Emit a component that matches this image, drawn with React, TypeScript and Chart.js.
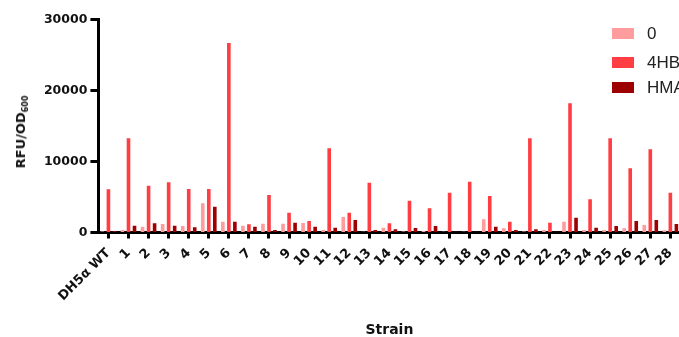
import React, { useEffect, useRef } from "react";
import { Chart, registerables } from "chart.js";

Chart.register(...registerables);

const categories = [
  "DH5α WT", "1", "2", "3", "4", "5", "6", "7", "8", "9", "10", "11", "12", "13", "14",
  "15", "16", "17", "18", "19", "20", "21", "22", "23", "24", "25", "26", "27", "28",
];

const seriesLabels = ["0", "4HBA", "HMA"];
const seriesColors = ["#FF9C9E", "#FF3D42", "#9C0000"];

const values0 = [
  150, 350, 820, 1200, 910, 4110, 1520, 960, 1240, 1240, 1340, 350, 2180, 100, 680,
  150, 200, 100, 100, 1860, 590, 150, 350, 1520, 350, 350, 590, 1060, 300,
];
const values4HB = [
  6080, 13260, 6590, 7070, 6120, 6120, 26700, 1150, 5280, 2790, 1620, 11850, 2790, 7010, 1290,
  4480, 3400, 5600, 7150, 5140, 1520, 13260, 1380, 18200, 4670, 13260, 9040, 11710, 5600,
];
const valuesHMA = [
  200, 960, 1290, 960, 730, 3640, 1520, 820, 350, 1380, 820, 680, 1760, 350, 450,
  630, 910, 100, 100, 820, 350, 450, 100, 2090, 680, 910, 1620, 1760, 1200,
];

const yTicks = [0, 10000, 20000, 30000];
const yTitle = "RFU/OD";
const yTitleSub = "600";
const xTitle = "Strain";

const CANVAS_W = 700;
const CANVAS_H = 337;

export default function App() {
  const ref = useRef<HTMLCanvasElement | null>(null);

  useEffect(() => {
    if (!ref.current) return;
    const allValues = [values0, values4HB, valuesHMA];
    const chart = new Chart(ref.current, {
      type: "bar",
      data: {
        labels: categories,
        datasets: allValues.map((vals, i) => ({
          label: seriesLabels[i],
          data: vals,
          backgroundColor: seriesColors[i],
          borderWidth: 0,
          categoryPercentage: 0.9,
          barPercentage: 0.6,
        })),
      },
      options: {
        responsive: false,
        animation: false,
        layout: { padding: { left: 0, top: 19.5, right: 19.6, bottom: 0 } },
        plugins: {
          legend: { display: false },
          tooltip: { enabled: false },
        },
        scales: {
          x: {
            type: "category",
            offset: true,
            grid: {
              display: true,
              drawOnChartArea: false,
              offset: false,
              tickLength: 6,
              tickWidth: 3,
              tickColor: "#000",
            },
            border: { display: true, width: 3, color: "#000" },
            ticks: {
              autoSkip: false,
              maxRotation: 45,
              minRotation: 45,
              padding: 7,
              color: "#111",
              font: { family: "DejaVu Sans", weight: "bold", size: 13 },
            },
            title: {
              display: true,
              text: xTitle,
              color: "#111",
              padding: { top: 0, bottom: 0 },
              font: { family: "DejaVu Sans", weight: "bold", size: 14, lineHeight: 1 },
            },
            afterFit: (scale: any) => {
              scale.height = CANVAS_H - 232.5;
            },
          },
          y: {
            min: 0,
            max: 30000,
            afterBuildTicks: (scale: any) => {
              scale.ticks = yTicks.map((v) => ({ value: v }));
            },
            grid: {
              display: true,
              drawOnChartArea: false,
              tickLength: 8,
              tickWidth: 3,
              tickColor: "#000",
            },
            border: { display: true, width: 3, color: "#000" },
            ticks: {
              padding: 3,
              color: "#111",
              font: { family: "DejaVu Sans", weight: "bold", size: 12.5 },
              callback: (v: any) => String(v),
            },
            afterFit: (scale: any) => {
              scale.width = 98.4;
            },
          },
        },
      },
    });
    return () => chart.destroy();
  }, []);

  const legendTops = [28, 57, 82];

  return (
    <div
      style={{
        position: "fixed",
        left: 0,
        top: 0,
        width: 679,
        height: 337,
        overflow: "hidden",
        background: "#fff",
      }}
    >
      <canvas ref={ref} width={CANVAS_W} height={CANVAS_H} style={{ position: "absolute", left: 0, top: 0 }} />
      <div
        style={{
          position: "absolute",
          left: 22,
          top: 132,
          transform: "translate(-50%, -50%) rotate(-90deg)",
          whiteSpace: "nowrap",
          fontFamily: "DejaVu Sans",
          fontWeight: "bold",
          fontSize: 13,
          color: "#111",
          lineHeight: 1,
        }}
      >
        {yTitle}
        <span style={{ fontSize: 8, verticalAlign: "-3px" }}>{yTitleSub}</span>
      </div>
      {seriesLabels.map((lab, i) => (
        <div
          key={lab}
          style={{
            position: "absolute",
            left: 612,
            top: legendTops[i] - 3,
            height: 17,
            display: "flex",
            alignItems: "center",
            whiteSpace: "nowrap",
            fontFamily: "Liberation Sans",
            fontSize: 17,
            color: "#222",
          }}
        >
          <span style={{ display: "inline-block", width: 22, height: 11, background: seriesColors[i], marginRight: 13 }} />
          {lab}
        </div>
      ))}
    </div>
  );
}
